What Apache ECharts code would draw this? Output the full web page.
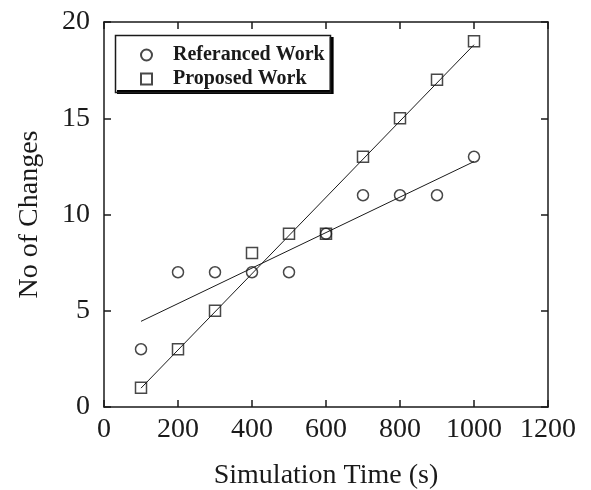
<!DOCTYPE html>
<html>
<head>
<meta charset="utf-8">
<script src="https://cdn.jsdelivr.net/npm/echarts@6/dist/echarts.min.js"></script>
<style>html,body{margin:0;padding:0;background:#fff}#c{width:591px;height:490px}</style>
</head>
<body>
<div id="c"></div>
<script>
const xValues = [100, 200, 300, 400, 500, 600, 700, 800, 900, 1000];
const referencedWork = [3, 7, 7, 7, 7, 9, 11, 11, 11, 13];
const proposedWork = [1, 3, 5, 8, 9, 9, 13, 15, 17, 19];
const fitX = [100, 1000];
const referencedFit = [4.45, 12.75];
const proposedFit = [0.98, 18.82];
const seriesNames = ['Referanced Work', 'Proposed Work'];

const font = 'Liberation Serif, Times New Roman, serif';
const ink = '#1a1a1a';

const pairs = (xs, ys) => xs.map((x, i) => [x, ys[i]]);

function axisBase() {
  return {
    type: 'value',
    axisLine: { show: true, onZero: false, lineStyle: { color: ink, width: 1.5 } },
    axisTick: { show: true, inside: true, length: 7, lineStyle: { color: ink, width: 1.5 } },
    splitLine: { show: false }
  };
}

const chart = echarts.init(document.getElementById('c'), null, { renderer: 'canvas' });
chart.setOption({
  animation: false,
  backgroundColor: '#fff',
  grid: { left: 104, right: 43, top: 22, bottom: 83, containLabel: false, outerBoundsMode: 'none' },
  legend: {
    left: 113, top: 33,
    orient: 'vertical',
    data: seriesNames,
    itemWidth: 11, itemHeight: 11, itemGap: 4,
    padding: [12, 5, 1, 27],
    backgroundColor: '#fff',
    borderWidth: 0,
    shadowColor: '#000', shadowBlur: 0, shadowOffsetX: 4, shadowOffsetY: 4,
    textStyle: { fontFamily: font, fontSize: 20, fontWeight: 'bold', color: ink, padding: [0, 0, 0, 16] }
  },
  graphic: [{
    type: 'rect', left: 113, top: 33, z: 100,
    shape: { width: 215, height: 57 },
    style: { fill: 'none', stroke: ink, lineWidth: 1.5 }
  }],
  xAxis: [
    Object.assign(axisBase(), {
      min: 0, max: 1200, interval: 200,
      name: 'Simulation Time (s)', nameLocation: 'middle', nameGap: 55,
      nameTextStyle: { fontFamily: font, fontSize: 28, color: ink },
      axisLabel: { fontFamily: font, fontSize: 28, color: ink, margin: 9, formatter: v => String(v) }
    }),
    Object.assign(axisBase(), {
      position: 'top', min: 0, max: 1200, interval: 200,
      axisLabel: { show: false }
    })
  ],
  yAxis: [
    Object.assign(axisBase(), {
      min: 0, max: 20, interval: 5,
      name: 'No of Changes', nameLocation: 'middle', nameGap: 60, nameRotate: 90,
      nameTextStyle: { fontFamily: font, fontSize: 28, color: ink },
      axisLabel: { fontFamily: font, fontSize: 28, color: ink, margin: 14 }
    }),
    Object.assign(axisBase(), {
      position: 'right', min: 0, max: 20, interval: 5,
      axisLabel: { show: false }
    })
  ],
  series: [
    {
      name: seriesNames[0], type: 'scatter', xAxisIndex: 0, yAxisIndex: 0,
      symbol: 'circle', symbolSize: 11,
      itemStyle: { color: 'rgba(255,255,255,0)', borderColor: ink, borderWidth: 1.5 },
      data: pairs(xValues, referencedWork), z: 3
    },
    {
      name: seriesNames[1], type: 'scatter', xAxisIndex: 0, yAxisIndex: 0,
      symbol: 'rect', symbolSize: 11,
      itemStyle: { color: 'rgba(255,255,255,0)', borderColor: ink, borderWidth: 1.5 },
      data: pairs(xValues, proposedWork), z: 3
    },
    {
      name: 'refFit', type: 'line', xAxisIndex: 0, yAxisIndex: 0,
      showSymbol: false, symbol: 'none', silent: true,
      lineStyle: { color: ink, width: 1 },
      data: pairs(fitX, referencedFit), z: 2
    },
    {
      name: 'propFit', type: 'line', xAxisIndex: 0, yAxisIndex: 0,
      showSymbol: false, symbol: 'none', silent: true,
      lineStyle: { color: ink, width: 1 },
      data: pairs(fitX, proposedFit), z: 2
    }
  ]
});
</script>
</body>
</html>
